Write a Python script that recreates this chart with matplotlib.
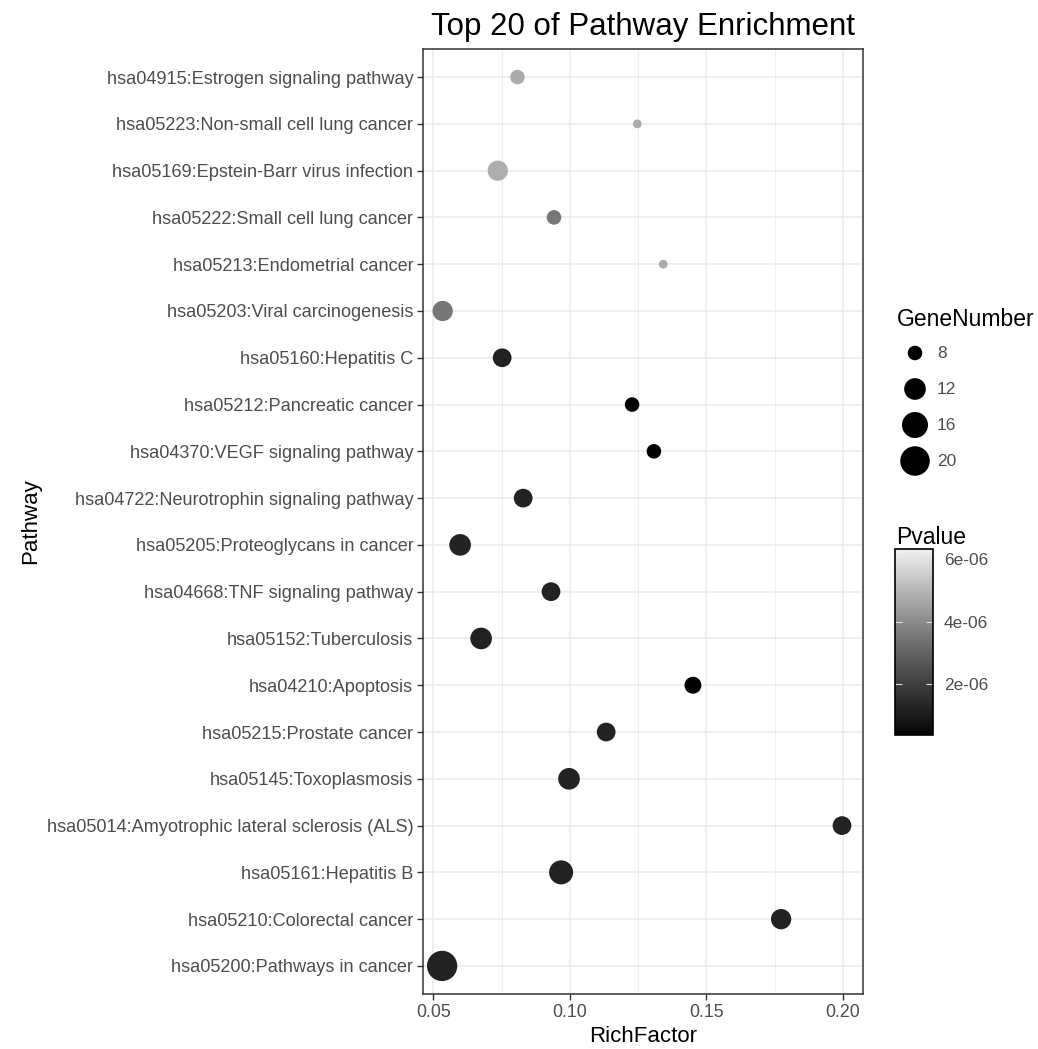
import matplotlib
matplotlib.use('Agg')
import matplotlib.pyplot as plt
import numpy as np
from matplotlib.colors import ListedColormap, Normalize
from matplotlib.cm import ScalarMappable
from matplotlib.ticker import FixedLocator

# Dados (de cima para baixo)
vias = [
    'hsa04915:Estrogen signaling pathway',
    'hsa05223:Non-small cell lung cancer',
    'hsa05169:Epstein-Barr virus infection',
    'hsa05222:Small cell lung cancer',
    'hsa05213:Endometrial cancer',
    'hsa05203:Viral carcinogenesis',
    'hsa05160:Hepatitis C',
    'hsa05212:Pancreatic cancer',
    'hsa04370:VEGF signaling pathway',
    'hsa04722:Neurotrophin signaling pathway',
    'hsa05205:Proteoglycans in cancer',
    'hsa04668:TNF signaling pathway',
    'hsa05152:Tuberculosis',
    'hsa04210:Apoptosis',
    'hsa05215:Prostate cancer',
    'hsa05145:Toxoplasmosis',
    'hsa05014:Amyotrophic lateral sclerosis (ALS)',
    'hsa05161:Hepatitis B',
    'hsa05210:Colorectal cancer',
    'hsa05200:Pathways in cancer',
]
rich_factor = [0.0808, 0.1247, 0.0736, 0.0942, 0.1342, 0.0534, 0.0752, 0.1228,
               0.1308, 0.0829, 0.0598, 0.0931, 0.0675, 0.1451, 0.1133, 0.0997,
               0.1997, 0.0968, 0.1774, 0.0532]
gene_number = [8, 7, 11, 8, 7, 11, 10, 8, 8, 10, 12, 10, 12, 9, 10, 12, 10, 14, 11, 21]
pvalue = [4.75e-6, 4.75e-6, 4.82e-6, 3.50e-6, 4.75e-6, 3.50e-6, 1.20e-6, 4.0e-7,
          4.0e-7, 1.20e-6, 1.25e-6, 1.20e-6, 1.22e-6, 4.0e-7, 1.20e-6, 1.22e-6,
          1.20e-6, 1.22e-6, 1.20e-6, 1.25e-6]
p_lim = (3.7e-7, 6.32e-6)
legenda_genes = [8, 12, 16, 20]
ticks_x = [0.05, 0.10, 0.15, 0.20]
ticks_p = [2e-6, 4e-6, 6e-6]

W, H = 1038, 1049
plt.rcParams['font.family'] = ['Liberation Sans', 'DejaVu Sans']

cor_borda = '#333333'
cor_tick = '#4D4D4D'
cor_grade = '#EBEBEB'


def cinza_lab(L):
    # escala de cinza com L* linear (como o gradiente do ggplot)
    L = np.asarray(L, dtype=float)
    Y = np.where(L > 8, ((L + 16) / 116) ** 3, L / 903.3)
    return np.where(Y <= 0.0031308, 12.92 * Y, 1.055 * Y ** (1 / 2.4) - 0.055)


niveis = cinza_lab(np.linspace(0, 95, 256))
cmap = ListedColormap(np.column_stack([niveis, niveis, niveis]))
norm = Normalize(*p_lim)

g_min, g_max = min(gene_number), max(gene_number)


def diametro_pt(g):
    d_px = 8.8 + 21.5 * np.sqrt((np.asarray(g, float) - g_min) / (g_max - g_min))
    return d_px * 0.72


def fx(px):
    return px / W


def fy(py):
    return 1 - py / H


fig = plt.figure(figsize=(W / 100, H / 100), dpi=100, facecolor='white')
ax = fig.add_axes([fx(423), fy(994), fx(863) - fx(423), fy(49) - fy(994)])

n = len(vias)
pos = np.arange(n)
ax.scatter(rich_factor, pos, s=diametro_pt(gene_number) ** 2, c=pvalue,
           cmap=cmap, norm=norm, edgecolors='none', zorder=3)

ax.set_xlim(0.0462, 0.2074)
ax.set_ylim(n - 0.4, -0.6)
ax.set_yticks(pos)
ax.set_yticklabels(vias)
ax.set_xticks(ticks_x)
ax.set_xticklabels([f'{t:.2f}' for t in ticks_x])
ax.xaxis.set_minor_locator(FixedLocator([0.075, 0.125, 0.175]))
ax.grid(True, which='major', color=cor_grade, linewidth=1.1, zorder=0)
ax.grid(True, which='minor', axis='x', color=cor_grade, linewidth=0.6, zorder=0)
ax.set_axisbelow(True)
ax.tick_params(axis='y', which='major', labelsize=13.1)
ax.tick_params(axis='x', which='major', labelsize=12.8)
ax.tick_params(axis='both', which='major', length=4, width=1, color=cor_borda,
               labelcolor=cor_tick, pad=3)
ax.tick_params(axis='x', which='minor', length=0)
for sp in ax.spines.values():
    sp.set_color(cor_borda)
    sp.set_linewidth(1.1)

ax.set_xlabel('RichFactor', fontsize=16, labelpad=4)
ax.set_ylabel('Pathway', fontsize=16, labelpad=4)
ax.set_title('Top 20 of Pathway Enrichment', fontsize=22.5, pad=10)

# Legenda de tamanho
fig.text(fx(897), fy(320), 'GeneNumber', fontsize=16.5, va='center', ha='left')
ax_leg = fig.add_axes([fx(895), fy(479), fx(1035) - fx(895), fy(335) - fy(479)])
ax_leg.axis('off')
ax_leg.set_xlim(0, 140)
ax_leg.set_ylim(len(legenda_genes) - 0.5, -0.5)
idx = np.arange(len(legenda_genes))
ax_leg.scatter(np.full(len(idx), 20), idx, s=diametro_pt(legenda_genes) ** 2,
               color='black', edgecolors='none', clip_on=False)
for i, g in zip(idx, legenda_genes):
    ax_leg.text(42, i, str(g), fontsize=12.5, color=cor_tick, va='center', ha='left')

# Barra de cores
fig.text(fx(896), fy(537), 'Pvalue', fontsize=16.5, va='center', ha='left')
cax = fig.add_axes([fx(895), fy(735), fx(933) - fx(895), fy(549) - fy(735)])
sm = ScalarMappable(norm=norm, cmap=cmap)
cb = fig.colorbar(sm, cax=cax)
cb.set_ticks(ticks_p)
cb.set_ticklabels(['2e-06', '4e-06', '6e-06'])
cb.outline.set_edgecolor('black')
cb.outline.set_linewidth(1.2)
cax.tick_params(direction='in', color='#DDDDDD', length=5, width=0.8,
                left=True, right=True, labelsize=12.5, labelcolor=cor_tick, pad=8)

fig.savefig('out.png', dpi=100, facecolor='white')
